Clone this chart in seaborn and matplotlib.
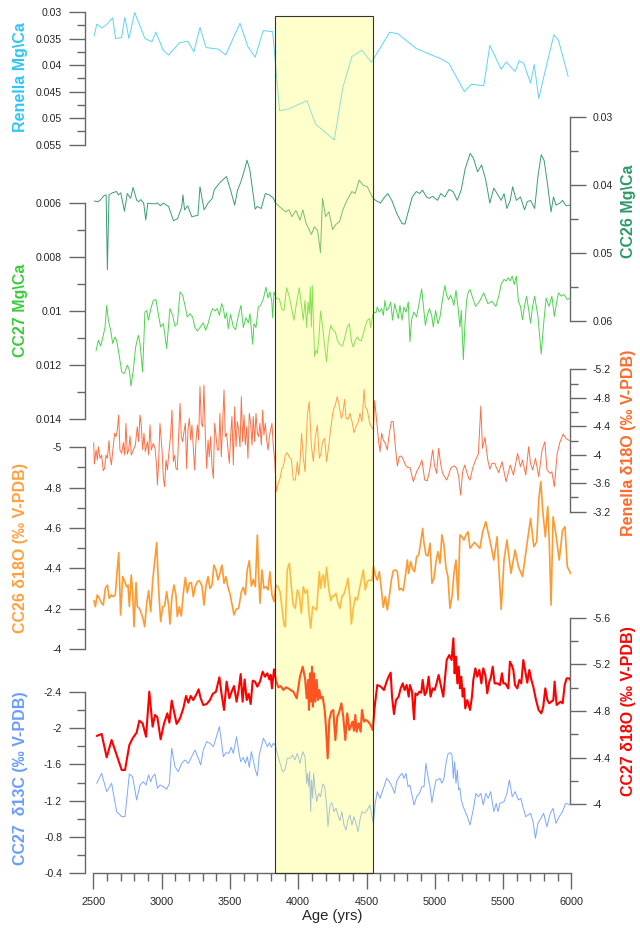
import matplotlib
matplotlib.use('Agg')
import matplotlib.pyplot as plt
import seaborn as sns
from matplotlib.ticker import FixedLocator, MultipleLocator, AutoMinorLocator, FuncFormatter
from matplotlib.patches import Rectangle

sns.set_theme(style='white')
plt.rcParams['font.family'] = ['Liberation Sans', 'DejaVu Sans']

# ---------------- data ----------------
event_start, event_end = 3832, 4547
age_ticks = [2500, 3000, 3500, 4000, 4500, 5000, 5500, 6000]

ren_mg_age = [2507, 2525, 2564, 2600, 2642, 2663, 2707, 2731, 2761, 2803,
              2878, 2929, 2958, 3012, 3051, 3132, 3191, 3236, 3281, 3326,
              3416, 3469, 3574, 3631, 3685, 3744, 3813, 3864, 3927, 4064,
              4127, 4264, 4327, 4393, 4467, 4536, 4670, 4730, 4865, 4939,
              5044, 5104, 5217, 5268, 5358, 5403, 5486, 5522, 5588, 5618,
              5650, 5701, 5728, 5761, 5821, 5872, 5905, 5976]
ren_mg_val = [0.0345, 0.0323, 0.0330, 0.0323, 0.0311, 0.0350, 0.0348, 0.0310, 0.0350, 0.0301,
              0.0350, 0.0356, 0.0338, 0.0372, 0.0381, 0.0358, 0.0355, 0.0375, 0.0329, 0.0367,
              0.0370, 0.0381, 0.0321, 0.0365, 0.0385, 0.0335, 0.0337, 0.0486, 0.0483, 0.0467,
              0.0511, 0.0541, 0.0442, 0.0384, 0.0372, 0.0395, 0.0338, 0.0341, 0.0369, 0.0377,
              0.0388, 0.0397, 0.0450, 0.0436, 0.0439, 0.0363, 0.0408, 0.0394, 0.0412, 0.0392,
              0.0396, 0.0434, 0.0399, 0.0463, 0.0397, 0.0343, 0.0353, 0.0421]
ren_mg_ticks = [0.03, 0.035, 0.04, 0.045, 0.05, 0.055]

cc26_mg_age = [2507, 2534, 2549, 2579, 2594, 2603, 2615, 2639, 2669, 2684,
               2701, 2728, 2749, 2773, 2791, 2818, 2833, 2848, 2869, 2884,
               2899, 2923, 2952, 2970, 2991, 3012, 3051, 3087, 3117, 3147,
               3156, 3168, 3191, 3221, 3266, 3281, 3311, 3341, 3371, 3386,
               3431, 3475, 3505, 3535, 3556, 3580, 3610, 3625, 3646, 3685,
               3699, 3729, 3759, 3789, 3819, 3834, 3879, 3909, 3933, 3953,
               3983, 4013, 4034, 4058, 4097, 4118, 4142, 4163, 4178, 4201,
               4225, 4252, 4273, 4303, 4327, 4357, 4393, 4417, 4446, 4476,
               4506, 4542, 4566, 4602, 4626, 4656, 4685, 4721, 4760, 4781,
               4805, 4835, 4865, 4889, 4910, 4939, 4960, 4984, 5020, 5044,
               5074, 5104, 5134, 5164, 5193, 5223, 5259, 5283, 5313, 5343,
               5373, 5403, 5432, 5462, 5486, 5507, 5528, 5552, 5570, 5597,
               5627, 5657, 5677, 5701, 5731, 5755, 5779, 5800, 5821, 5851,
               5869, 5887, 5917, 5935, 5961, 5988]
cc26_mg_val = [0.0424, 0.0425, 0.0423, 0.0416, 0.0415, 0.0525, 0.0415, 0.0412, 0.0410, 0.0415,
               0.0412, 0.0439, 0.0413, 0.0420, 0.0404, 0.0423, 0.0425, 0.0422, 0.0427, 0.0452,
               0.0427, 0.0428, 0.0428, 0.0427, 0.0431, 0.0427, 0.0432, 0.0453, 0.0450, 0.0433,
               0.0415, 0.0437, 0.0431, 0.0447, 0.0445, 0.0403, 0.0437, 0.0427, 0.0420, 0.0407,
               0.0396, 0.0388, 0.0408, 0.0430, 0.0408, 0.0396, 0.0376, 0.0364, 0.0378, 0.0436,
               0.0432, 0.0435, 0.0413, 0.0415, 0.0420, 0.0427, 0.0435, 0.0440, 0.0437, 0.0447,
               0.0438, 0.0452, 0.0437, 0.0457, 0.0473, 0.0462, 0.0467, 0.0500, 0.0420, 0.0447,
               0.0440, 0.0466, 0.0459, 0.0454, 0.0437, 0.0423, 0.0410, 0.0413, 0.0393, 0.0401,
               0.0403, 0.0418, 0.0423, 0.0427, 0.0420, 0.0413, 0.0423, 0.0442, 0.0457, 0.0458,
               0.0440, 0.0418, 0.0410, 0.0413, 0.0408, 0.0418, 0.0420, 0.0417, 0.0423, 0.0413,
               0.0418, 0.0407, 0.0410, 0.0423, 0.0408, 0.0376, 0.0354, 0.0361, 0.0381, 0.0371,
               0.0393, 0.0427, 0.0405, 0.0415, 0.0423, 0.0413, 0.0435, 0.0423, 0.0403, 0.0423,
               0.0418, 0.0437, 0.0425, 0.0423, 0.0435, 0.0388, 0.0356, 0.0364, 0.0393, 0.0440,
               0.0418, 0.0430, 0.0427, 0.0423, 0.0431, 0.0430]
cc26_mg_ticks = [0.03, 0.04, 0.05, 0.06]

cc27_mg_age = [2520, 2537, 2554, 2573, 2586, 2598, 2610, 2627, 2642, 2659,
               2671, 2691, 2708, 2727, 2749, 2764, 2776, 2793, 2810, 2830,
               2842, 2861, 2878, 2891, 2903, 2922, 2939, 2959, 2976, 2993,
               3013, 3037, 3061, 3081, 3098, 3115, 3135, 3154, 3171, 3188,
               3208, 3227, 3244, 3262, 3281, 3305, 3323, 3342, 3359, 3374,
               3391, 3408, 3423, 3440, 3452, 3464, 3476, 3488, 3505, 3525,
               3542, 3562, 3581, 3598, 3618, 3635, 3647, 3667, 3676, 3691,
               3708, 3725, 3745, 3764, 3779, 3793, 3806, 3813, 3823, 3842,
               3862, 3879, 3896, 3915, 3935, 3952, 3969, 3989, 4008, 4025,
               4037, 4050, 4062, 4072, 4081, 4089, 4096, 4103, 4111, 4120,
               4130, 4140, 4152, 4164, 4179, 4194, 4208, 4220, 4238, 4257,
               4272, 4286, 4306, 4325, 4342, 4359, 4374, 4391, 4403, 4418,
               4433, 4447, 4462, 4477, 4491, 4506, 4521, 4530, 4545, 4555,
               4569, 4579, 4594, 4611, 4623, 4635, 4647, 4662, 4677, 4691,
               4706, 4721, 4733, 4745, 4760, 4774, 4789, 4806, 4818, 4830,
               4847, 4867, 4887, 4904, 4916, 4931, 4945, 4960, 4977, 4989,
               5006, 5023, 5038, 5057, 5074, 5087, 5101, 5116, 5130, 5140,
               5155, 5170, 5184, 5194, 5209, 5221, 5233, 5245, 5258, 5298,
               5328, 5358, 5388, 5418, 5447, 5468, 5486, 5507, 5522, 5537,
               5552, 5567, 5582, 5597, 5612, 5627, 5642, 5657, 5672, 5687,
               5701, 5716, 5731, 5755, 5779, 5797, 5815, 5836, 5857, 5875,
               5887, 5905, 5925, 5946, 5970, 5991]
cc27_mg_val = [0.01147, 0.01108, 0.01130, 0.01090, 0.01059, 0.00979, 0.01034, 0.01071, 0.01120, 0.01096,
               0.01108, 0.01169, 0.01225, 0.01231, 0.01200, 0.01218, 0.01277, 0.01218, 0.01133, 0.01090,
               0.01120, 0.01225, 0.01004, 0.00998, 0.01034, 0.00991, 0.00961, 0.00958, 0.01012, 0.01059,
               0.01047, 0.01139, 0.00991, 0.01016, 0.01056, 0.01047, 0.00930, 0.00942, 0.00979, 0.01022,
               0.01010, 0.01022, 0.01061, 0.01074, 0.01061, 0.01044, 0.01071, 0.01044, 0.01010, 0.00991,
               0.01000, 0.00991, 0.01016, 0.00973, 0.00991, 0.01028, 0.01007, 0.01065, 0.01012, 0.01059,
               0.01069, 0.01016, 0.00979, 0.01061, 0.01025, 0.01044, 0.01010, 0.01123, 0.01047, 0.01061,
               0.00985, 0.00979, 0.00955, 0.00912, 0.00951, 0.00930, 0.00961, 0.01025, 0.00930, 0.00955,
               0.00955, 0.00991, 0.00998, 0.00914, 0.00948, 0.00991, 0.01034, 0.00967, 0.00914, 0.00985,
               0.01034, 0.00961, 0.01061, 0.00967, 0.01010, 0.00912, 0.01059, 0.00906, 0.01034, 0.01169,
               0.01145, 0.01157, 0.01096, 0.01000, 0.01059, 0.01133, 0.01188, 0.01108, 0.01053, 0.01071,
               0.01077, 0.01108, 0.01123, 0.01130, 0.01096, 0.01059, 0.01047, 0.01114, 0.01133, 0.01108,
               0.01096, 0.01108, 0.01110, 0.01083, 0.01056, 0.01034, 0.01028, 0.01061, 0.01016, 0.01004,
               0.01007, 0.00985, 0.01004, 0.00991, 0.01016, 0.00961, 0.00998, 0.00991, 0.00967, 0.01034,
               0.00973, 0.01004, 0.01028, 0.00979, 0.01034, 0.00985, 0.01004, 0.00967, 0.01114, 0.01032,
               0.01004, 0.01022, 0.00967, 0.00918, 0.00979, 0.01053, 0.01016, 0.00991, 0.01016, 0.01059,
               0.00998, 0.01047, 0.01022, 0.00955, 0.00906, 0.00942, 0.00958, 0.00942, 0.00961, 0.00979,
               0.00924, 0.00985, 0.01059, 0.00998, 0.01180, 0.01047, 0.00961, 0.00930, 0.00921, 0.00983,
               0.00964, 0.00933, 0.00973, 0.00964, 0.00983, 0.00945, 0.00902, 0.00883, 0.00889, 0.00877,
               0.00889, 0.00871, 0.00902, 0.00871, 0.00964, 0.00983, 0.01032, 0.00983, 0.00945, 0.00995,
               0.01045, 0.00983, 0.00945, 0.01020, 0.01159, 0.01045, 0.00952, 0.00983, 0.00945, 0.01020,
               0.00983, 0.00933, 0.00945, 0.00939, 0.00958, 0.00952]
cc27_mg_ticks = [0.006, 0.008, 0.01, 0.012, 0.014]

ren_o_age = [2503, 2508, 2520, 2530, 2537, 2549, 2561, 2573, 2583, 2593,
             2603, 2615, 2622, 2632, 2647, 2656, 2666, 2676, 2686, 2695,
             2708, 2720, 2730, 2739, 2749, 2759, 2769, 2778, 2793, 2808,
             2822, 2832, 2842, 2852, 2861, 2871, 2881, 2896, 2905, 2915,
             2925, 2939, 2952, 2964, 2969, 2978, 2988, 3003, 3013, 3022,
             3032, 3042, 3054, 3066, 3076, 3086, 3096, 3105, 3115, 3125,
             3135, 3144, 3154, 3164, 3174, 3183, 3193, 3203, 3213, 3222,
             3232, 3242, 3252, 3262, 3271, 3281, 3291, 3301, 3310, 3320,
             3330, 3340, 3349, 3359, 3369, 3379, 3388, 3398, 3408, 3418,
             3427, 3437, 3447, 3457, 3466, 3476, 3486, 3496, 3505, 3515,
             3525, 3535, 3545, 3554, 3564, 3574, 3584, 3593, 3603, 3613,
             3623, 3632, 3642, 3652, 3662, 3671, 3681, 3691, 3701, 3710,
             3720, 3730, 3740, 3749, 3759, 3769, 3779, 3789, 3798, 3808,
             3818, 3828, 3835, 3842, 3854, 3867, 3881, 3891, 3906, 3920,
             3935, 3950, 3964, 3979, 3994, 4003, 4013, 4025, 4037, 4050,
             4067, 4081, 4096, 4111, 4125, 4140, 4155, 4164, 4179, 4194,
             4208, 4223, 4238, 4257, 4272, 4286, 4301, 4316, 4325, 4340,
             4350, 4364, 4379, 4394, 4408, 4423, 4438, 4452, 4467, 4482,
             4491, 4506, 4521, 4535, 4550, 4560, 4574, 4589, 4599, 4611,
             4623, 4638, 4652, 4667, 4682, 4696, 4711, 4726, 4740, 4755,
             4769, 4784, 4799, 4818, 4843, 4867, 4887, 4906, 4926, 4945,
             4965, 4984, 4999, 5013, 5028, 5043, 5057, 5072, 5087, 5101,
             5116, 5131, 5145, 5160, 5175, 5189, 5204, 5219, 5233, 5248,
             5258, 5277, 5298, 5319, 5337, 5349, 5367, 5388, 5403, 5418,
             5438, 5468, 5492, 5522, 5552, 5576, 5606, 5627, 5642, 5666,
             5687, 5701, 5716, 5737, 5761, 5785, 5806, 5821, 5845, 5857,
             5875, 5896, 5917, 5940, 5961, 5985]
ren_o_val = [-4.170, -3.870, -4.067, -3.926, -4.113, -3.949, -3.996, -3.776, -3.809, -3.996,
             -3.949, -4.198, -3.982, -3.856, -4.137, -4.301, -4.254, -4.347, -4.558, -4.067,
             -4.020, -4.170, -3.996, -4.441, -4.010, -4.067, -4.263, -3.996, -4.067, -4.137,
             -4.394, -4.184, -4.558, -4.394, -4.067, -4.301, -4.043, -4.184, -3.996, -4.418,
             -4.067, -4.160, -4.090, -3.832, -3.575, -3.879, -4.441, -4.067, -3.669, -3.552,
             -3.926, -3.786, -4.043, -4.277, -4.628, -3.903, -3.996, -3.809, -3.786, -4.277,
             -4.722, -4.254, -4.184, -4.324, -4.441, -3.809, -4.347, -4.511, -4.207, -4.418,
             -4.090, -3.786, -4.207, -4.418, -4.207, -4.956, -4.441, -4.394, -4.979, -4.277,
             -3.809, -4.207, -3.973, -4.254, -3.832, -3.669, -4.441, -4.277, -4.067, -4.067,
             -4.582, -3.973, -4.441, -4.909, -4.254, -4.301, -4.067, -3.879, -4.254, -4.535,
             -3.856, -4.675, -4.113, -4.465, -4.347, -4.113, -4.816, -4.184, -4.558, -4.137,
             -4.394, -3.949, -4.582, -4.441, -4.137, -4.535, -4.184, -4.582, -4.301, -4.254,
             -4.441, -4.137, -4.628, -4.277, -4.441, -4.207, -4.067, -4.254, -4.347, -4.441,
             -4.113, -3.926, -3.669, -3.481, -3.598, -3.669, -3.809, -3.832, -3.996, -4.029,
             -3.964, -3.935, -3.645, -3.645, -3.903, -3.715, -3.879, -4.301, -3.964, -3.762,
             -4.558, -4.745, -4.137, -3.903, -4.244, -4.418, -3.949, -3.996, -4.184, -4.230,
             -3.903, -4.113, -4.371, -4.628, -4.699, -4.816, -4.675, -4.511, -4.558, -4.778,
             -4.511, -4.497, -4.582, -4.465, -4.310, -4.394, -4.450, -4.582, -4.465, -4.919,
             -4.675, -4.628, -4.465, -4.394, -4.357, -4.759, -4.488, -4.184, -4.043, -4.301,
             -4.207, -4.160, -4.067, -4.301, -4.465, -4.465, -4.113, -3.842, -3.973, -3.982,
             -3.935, -3.856, -3.823, -3.823, -3.622, -3.762, -3.832, -3.926, -3.645, -3.636,
             -3.809, -4.067, -3.842, -3.739, -4.090, -3.870, -3.739, -3.692, -3.645, -3.715,
             -3.809, -3.832, -3.842, -3.809, -3.692, -3.434, -3.762, -3.856, -3.762, -3.669,
             -3.645, -3.809, -3.926, -4.010, -4.684, -4.090, -4.244, -3.926, -3.795, -3.879,
             -3.879, -3.748, -3.903, -3.622, -3.856, -3.715, -4.020, -3.832, -3.926, -3.715,
             -4.113, -3.879, -3.786, -3.949, -3.692, -4.066, -4.183, -3.786, -3.739, -3.762,
             -3.551, -4.020, -4.183, -4.291, -4.230, -4.198]
ren_o_ticks = [-5.2, -4.8, -4.4, -4.0, -3.6, -3.2]

cc26_o_age = [2505, 2515, 2529, 2544, 2561, 2573, 2588, 2603, 2617, 2632,
              2647, 2661, 2671, 2686, 2700, 2715, 2730, 2744, 2754, 2764,
              2778, 2788, 2798, 2813, 2822, 2837, 2852, 2866, 2876, 2891,
              2905, 2920, 2935, 2949, 2964, 2978, 2993, 3008, 3022, 3037,
              3052, 3061, 3076, 3091, 3105, 3115, 3130, 3144, 3159, 3174,
              3188, 3203, 3218, 3232, 3247, 3262, 3276, 3296, 3310, 3325,
              3340, 3354, 3369, 3383, 3398, 3413, 3427, 3442, 3457, 3471,
              3486, 3501, 3515, 3530, 3545, 3564, 3584, 3598, 3613, 3627,
              3642, 3657, 3671, 3686, 3701, 3710, 3720, 3735, 3749, 3764,
              3779, 3793, 3808, 3823, 3837, 3852, 3867, 3881, 3896, 3906,
              3920, 3935, 3950, 3964, 3979, 3994, 4008, 4023, 4037, 4052,
              4067, 4077, 4091, 4106, 4120, 4135, 4155, 4164, 4174, 4184,
              4194, 4208, 4223, 4238, 4252, 4262, 4277, 4291, 4306, 4320,
              4335, 4350, 4364, 4379, 4389, 4403, 4418, 4433, 4447, 4462,
              4477, 4491, 4506, 4521, 4540, 4550, 4564, 4579, 4594, 4608,
              4623, 4638, 4652, 4667, 4682, 4696, 4711, 4726, 4740, 4755,
              4769, 4784, 4799, 4808, 4823, 4838, 4852, 4867, 4882, 4896,
              4911, 4921, 4935, 4950, 4965, 4979, 4994, 5009, 5023, 5038,
              5052, 5067, 5082, 5096, 5111, 5126, 5140, 5155, 5170, 5184,
              5199, 5213, 5228, 5243, 5258, 5290, 5330, 5350, 5373, 5403,
              5432, 5456, 5486, 5507, 5528, 5558, 5588, 5612, 5642, 5672,
              5701, 5725, 5746, 5761, 5776, 5791, 5809, 5827, 5839, 5851,
              5866, 5887, 5911, 5935, 5953, 5970, 5994]
cc26_o_val = [-4.241, -4.211, -4.269, -4.252, -4.228, -4.219, -4.302, -4.318, -4.252, -4.269,
              -4.261, -4.269, -4.360, -4.478, -4.170, -4.360, -4.335, -4.310, -4.318, -4.211,
              -4.368, -4.285, -4.112, -4.330, -4.211, -4.203, -4.178, -4.145, -4.112, -4.228,
              -4.290, -4.186, -4.343, -4.434, -4.528, -4.302, -4.137, -4.211, -4.214, -4.285,
              -4.214, -4.125, -4.261, -4.318, -4.269, -4.162, -4.211, -4.165, -4.277, -4.356,
              -4.280, -4.327, -4.330, -4.261, -4.313, -4.335, -4.340, -4.313, -4.219, -4.313,
              -4.360, -4.302, -4.318, -4.417, -4.393, -4.343, -4.376, -4.417, -4.327, -4.360,
              -4.307, -4.274, -4.224, -4.170, -4.198, -4.203, -4.285, -4.307, -4.269, -4.393,
              -4.439, -4.313, -4.346, -4.310, -4.566, -4.384, -4.228, -4.393, -4.302, -4.310,
              -4.294, -4.384, -4.269, -4.236, -4.318, -4.310, -4.285, -4.211, -4.120, -4.112,
              -4.393, -4.426, -4.310, -4.219, -4.203, -4.294, -4.269, -4.178, -4.310, -4.277,
              -4.294, -4.195, -4.104, -4.211, -4.203, -4.195, -4.384, -4.302, -4.351, -4.368,
              -4.307, -4.406, -4.302, -4.241, -4.264, -4.264, -4.277, -4.228, -4.203, -4.261,
              -4.274, -4.310, -4.351, -4.252, -4.125, -4.203, -4.257, -4.244, -4.294, -4.343,
              -4.393, -4.294, -4.335, -4.343, -4.340, -4.412, -4.368, -4.343, -4.384, -4.302,
              -4.208, -4.261, -4.195, -4.261, -4.343, -4.389, -4.393, -4.384, -4.294, -4.302,
              -4.290, -4.360, -4.442, -4.376, -4.434, -4.396, -4.384, -4.459, -4.467, -4.525,
              -4.599, -4.525, -4.467, -4.462, -4.525, -4.327, -4.351, -4.434, -4.483, -4.426,
              -4.566, -4.516, -4.401, -4.360, -4.203, -4.261, -4.376, -4.442, -4.244, -4.566,
              -4.558, -4.541, -4.566, -4.582, -4.500, -4.530, -4.500, -4.580, -4.632, -4.541,
              -4.442, -4.557, -4.198, -4.442, -4.541, -4.376, -4.492, -4.409, -4.360, -4.508,
              -4.648, -4.508, -4.533, -4.739, -4.830, -4.681, -4.557, -4.706, -4.508, -4.219,
              -4.656, -4.566, -4.442, -4.590, -4.607, -4.409, -4.376]
cc26_o_ticks = [-5.0, -4.8, -4.6, -4.4, -4.2, -4.0]

cc27_o_age = [2525, 2561, 2598, 2634, 2671, 2708, 2732, 2764, 2788, 2817,
              2837, 2861, 2886, 2910, 2934, 2952, 2969, 2993, 3017, 3042,
              3057, 3074, 3091, 3110, 3135, 3159, 3179, 3196, 3213, 3232,
              3252, 3271, 3286, 3305, 3330, 3354, 3374, 3398, 3423, 3440,
              3457, 3476, 3496, 3513, 3530, 3549, 3564, 3579, 3593, 3608,
              3623, 3637, 3652, 3667, 3684, 3701, 3720, 3740, 3757, 3774,
              3789, 3798, 3808, 3823, 3837, 3854, 3872, 3891, 3911, 3928,
              3945, 3964, 3989, 4013, 4033, 4050, 4062, 4072, 4079, 4086,
              4094, 4101, 4108, 4116, 4125, 4135, 4145, 4155, 4164, 4179,
              4194, 4203, 4216, 4228, 4242, 4257, 4272, 4286, 4301, 4316,
              4330, 4345, 4359, 4374, 4389, 4398, 4408, 4418, 4428, 4442,
              4457, 4467, 4482, 4496, 4513, 4530, 4545, 4560, 4579, 4604,
              4628, 4647, 4662, 4677, 4687, 4701, 4716, 4735, 4750, 4765,
              4779, 4794, 4809, 4818, 4833, 4848, 4858, 4872, 4887, 4901,
              4911, 4926, 4940, 4955, 4969, 4984, 4999, 5013, 5028, 5062,
              5087, 5106, 5123, 5136, 5145, 5155, 5165, 5175, 5184, 5194,
              5204, 5214, 5223, 5238, 5258, 5272, 5282, 5297, 5311, 5326,
              5341, 5355, 5370, 5384, 5399, 5409, 5424, 5438, 5458, 5477,
              5492, 5502, 5516, 5538, 5550, 5563, 5575, 5587, 5604, 5619,
              5633, 5648, 5663, 5677, 5692, 5707, 5721, 5741, 5760, 5780,
              5794, 5809, 5824, 5838, 5853, 5868, 5877, 5892, 5907, 5921,
              5936, 5951, 5965, 5985, 5995]
cc27_o_val = [-4.586, -4.603, -4.403, -4.551, -4.423, -4.294, -4.294, -4.509, -4.566, -4.614,
              -4.717, -4.694, -4.580, -4.966, -4.666, -4.766, -4.746, -4.557, -4.689, -4.780,
              -4.700, -4.889, -4.794, -4.689, -4.737, -4.823, -4.929, -4.871, -4.929, -4.894,
              -4.937, -4.986, -4.909, -4.851, -4.860, -4.894, -4.946, -4.966, -5.089, -4.937,
              -4.809, -5.052, -4.909, -4.966, -5.014, -4.880, -4.980, -5.117, -4.880, -5.071,
              -4.894, -4.946, -4.860, -5.060, -5.052, -5.009, -5.052, -5.137, -5.094, -5.123,
              -5.071, -5.109, -4.994, -5.157, -5.066, -5.003, -5.014, -4.980, -5.003, -4.994,
              -4.980, -4.966, -4.909, -5.094, -5.180, -5.080, -4.909, -5.066, -4.809, -5.123,
              -4.880, -5.180, -4.837, -5.123, -4.880, -5.066, -4.894, -4.980, -4.909, -4.923,
              -4.809, -4.666, -4.394, -4.723, -4.794, -4.809, -4.551, -4.751, -4.794, -4.866,
              -4.751, -4.551, -4.780, -4.637, -4.680, -4.709, -4.631, -4.766, -4.623, -4.694,
              -4.623, -4.809, -4.709, -4.723, -4.709, -4.680, -4.637, -4.837, -5.023, -5.009,
              -4.980, -5.052, -5.094, -5.129, -4.923, -4.774, -4.894, -4.923, -4.994, -5.037,
              -4.980, -5.023, -4.923, -5.023, -4.966, -4.729, -4.951, -4.937, -4.966, -4.957,
              -5.066, -4.937, -4.966, -5.094, -4.923, -4.994, -4.980, -5.037, -5.109, -4.923,
              -5.237, -5.280, -5.237, -5.423, -5.123, -5.266, -5.037, -5.180, -4.994, -5.094,
              -4.923, -4.994, -4.823, -4.894, -4.809, -4.923, -5.066, -5.166, -5.094, -5.152,
              -5.037, -5.166, -5.109, -4.952, -5.052, -5.080, -5.180, -5.037, -5.037, -5.023,
              -5.123, -5.037, -5.037, -4.994, -5.223, -5.194, -5.152, -5.023, -4.994, -5.066,
              -5.037, -5.237, -5.137, -5.043, -5.152, -5.066, -5.009, -4.894, -4.809, -4.780,
              -4.837, -4.994, -4.894, -4.866, -4.880, -4.894, -5.052, -4.852, -4.866, -4.880,
              -4.866, -5.023, -5.080, -5.080, -5.060]
cc27_o_ticks = [-5.6, -5.2, -4.8, -4.4, -4.0]

cc27_c_age = [2525, 2561, 2598, 2634, 2671, 2708, 2732, 2764, 2788, 2817,
              2842, 2866, 2886, 2905, 2920, 2934, 2952, 2969, 2988, 3013,
              3037, 3057, 3074, 3098, 3122, 3147, 3171, 3196, 3220, 3244,
              3269, 3286, 3305, 3330, 3354, 3379, 3403, 3423, 3440, 3452,
              3471, 3491, 3510, 3525, 3549, 3564, 3579, 3598, 3613, 3627,
              3642, 3657, 3671, 3686, 3701, 3715, 3730, 3745, 3759, 3774,
              3789, 3803, 3818, 3833, 3847, 3867, 3886, 3903, 3920, 3940,
              3959, 3976, 3993, 4013, 4033, 4050, 4062, 4069, 4077, 4084,
              4091, 4098, 4106, 4113, 4123, 4135, 4150, 4164, 4179, 4194,
              4208, 4218, 4233, 4247, 4262, 4277, 4291, 4306, 4320, 4335,
              4350, 4364, 4379, 4394, 4408, 4423, 4438, 4452, 4467, 4486,
              4506, 4525, 4540, 4550, 4564, 4579, 4599, 4613, 4628, 4647,
              4667, 4687, 4706, 4721, 4740, 4760, 4774, 4789, 4804, 4818,
              4833, 4848, 4867, 4887, 4906, 4921, 4935, 4950, 4965, 4979,
              4994, 5009, 5023, 5038, 5052, 5067, 5082, 5096, 5111, 5126,
              5136, 5145, 5155, 5165, 5174, 5184, 5194, 5208, 5223, 5238,
              5258, 5283, 5301, 5319, 5337, 5355, 5373, 5391, 5409, 5432,
              5450, 5462, 5477, 5507, 5528, 5546, 5567, 5588, 5612, 5630,
              5648, 5666, 5684, 5701, 5719, 5737, 5755, 5776, 5797, 5821,
              5845, 5866, 5887, 5911, 5935, 5958, 5994]
cc27_c_val = [-1.391, -1.501, -1.299, -1.391, -1.078, -1.023, -1.023, -1.494, -1.465, -1.207,
              -1.372, -1.409, -1.372, -1.483, -1.409, -1.465, -1.494, -1.336, -1.372, -1.354,
              -1.325, -1.391, -1.778, -1.575, -1.520, -1.612, -1.649, -1.612, -1.685, -1.759,
              -1.667, -1.593, -1.759, -1.851, -1.833, -1.796, -1.914, -2.017, -1.833, -1.685,
              -1.730, -1.722, -1.789, -1.722, -1.906, -1.752, -1.630, -1.678, -1.612, -1.685,
              -1.568, -1.741, -1.649, -1.538, -1.472, -1.704, -1.796, -1.888, -1.851, -1.796,
              -1.840, -1.789, -1.833, -1.814, -1.722, -1.612, -1.520, -1.538, -1.667, -1.667,
              -1.704, -1.649, -1.722, -1.612, -1.741, -1.685, -1.391, -1.501, -1.354, -1.520,
              -1.078, -1.428, -1.225, -1.501, -1.336, -1.188, -1.280, -1.243, -1.383, -1.354,
              -1.151, -0.912, -1.151, -1.177, -1.078, -1.115, -1.041, -0.978, -1.078, -0.930,
              -0.875, -0.986, -1.041, -0.930, -1.023, -0.949, -0.857, -0.986, -1.078, -1.060,
              -1.096, -1.151, -1.023, -0.949, -1.170, -1.299, -1.225, -1.288, -1.354, -1.446,
              -1.409, -1.354, -1.280, -1.409, -1.465, -1.501, -1.446, -1.501, -1.354, -1.372,
              -1.262, -1.151, -1.243, -1.280, -1.354, -1.354, -1.612, -1.465, -1.354, -1.177,
              -1.317, -1.428, -1.428, -1.446, -1.391, -1.446, -1.612, -1.715, -1.730, -1.704,
              -1.446, -1.630, -1.391, -1.538, -1.317, -1.336, -1.207, -1.133, -1.078, -1.023,
              -0.930, -1.114, -1.280, -1.243, -1.280, -1.151, -1.280, -1.225, -1.299, -1.078,
              -1.170, -1.078, -1.170, -1.188, -1.280, -1.428, -1.243, -1.299, -1.207, -1.225,
              -1.114, -1.022, -1.041, -1.059, -0.967, -0.783, -0.949, -1.004, -1.059, -0.912,
              -1.059, -1.114, -0.949, -1.022, -1.078, -1.170, -1.151]
cc27_c_ticks = [-2.4, -2.0, -1.6, -1.2, -0.8, -0.4]

# ---------------- layout (pixel geometry of the reference) ----------------
W, H = 640, 930
X0, X1 = 93.3, 571.4          # pixel x of age 2500 and 6000
fig = plt.figure(figsize=(W / 100, H / 100), dpi=100)
fig.patch.set_facecolor('white')

AX_GRAY = '#666666'
TXT = '#262626'


def ax_at(top, bottom, zorder=1):
    return fig.add_axes([X0 / W, 1 - bottom / H, (X1 - X0) / W, (bottom - top) / H],
                        zorder=zorder)


fmt = FuncFormatter(lambda v, p: f'{v:g}')

# base axes with the age axis
base = ax_at(15.7, 873, zorder=0)
base.set_facecolor('white')
base.set_xlim(2500, 6000)
base.set_ylim(0, 1)
for s in ['left', 'right', 'top']:
    base.spines[s].set_visible(False)
base.spines['bottom'].set_color(AX_GRAY)
base.spines['bottom'].set_linewidth(1.0)
base.xaxis.set_major_locator(FixedLocator(age_ticks))
base.xaxis.set_minor_locator(MultipleLocator(100))
base.xaxis.set_major_formatter(fmt)
base.tick_params(axis='x', which='major', direction='out', length=11.5, width=1.0,
                 color=AX_GRAY, labelsize=7.8, labelcolor=TXT, pad=5.5, bottom=True)
base.tick_params(axis='x', which='minor', direction='out', length=5.8, width=1.0,
                 color=AX_GRAY, bottom=True)
base.set_yticks([])
base.set_xlabel('Age (yrs)', fontsize=10.7, color=TXT, labelpad=2)
base.grid(False)

panels = [
    # age, values, ticks, top px, bottom px, ylim(bottom, top), side, line colour, lw
    (ren_mg_age, ren_mg_val, ren_mg_ticks, 12.0, 144.7, (0.055, 0.03), 'left', '#5CD3F7', 0.7),
    (cc26_mg_age, cc26_mg_val, cc26_mg_ticks, 116.7, 320.7, (0.06, 0.03), 'right', '#3A9E6E', 0.7),
    (cc27_mg_age, cc27_mg_val, cc27_mg_ticks, 202.7, 419.3, (0.014, 0.006), 'left', '#4CD44C', 0.7),
    (ren_o_age, ren_o_val, ren_o_ticks, 369.3, 511.7, (-3.2, -5.2), 'right', '#FF6F45', 0.7),
    (cc26_o_age, cc26_o_val, cc26_o_ticks, 447.3, 649.3, (-4.0, -5.0), 'left', '#FF9A30', 1.2),
    (cc27_o_age, cc27_o_val, cc27_o_ticks, 617.7, 804.3, (-4.0, -5.6), 'right', '#FF0000', 1.5),
    (cc27_c_age, cc27_c_val, cc27_c_ticks, 692.0, 873.0, (-0.4, -2.4), 'left', '#7BA7FF', 0.7),
]

for i, (age, val, ticks, top, bot, ylim, side, col, lw) in enumerate(panels):
    ax = ax_at(top, bot, zorder=2 + i)
    ax.patch.set_visible(False)
    sns.lineplot(x=age, y=val, ax=ax, color=col, linewidth=lw, estimator=None, sort=False)
    ax.set_xlim(2500, 6000)
    ax.set_ylim(*ylim)
    ax.set_xticks([])
    ax.set_xlabel('')
    ax.set_ylabel('')
    ax.grid(False)
    for s in ['left', 'right', 'top', 'bottom']:
        ax.spines[s].set_visible(False)
    sp = ax.spines[side]
    sp.set_visible(True)
    sp.set_color(AX_GRAY)
    sp.set_linewidth(1.0)
    if side == 'left':
        sp.set_position(('outward', 6))
        ax.yaxis.tick_left()
    else:
        sp.set_position(('outward', -1))
        ax.yaxis.tick_right()
    ax.yaxis.set_major_locator(FixedLocator(ticks))
    ax.yaxis.set_minor_locator(AutoMinorLocator(2))
    ax.yaxis.set_major_formatter(fmt)
    ax.tick_params(axis='y', which='major', direction='out', length=11.5, width=1.0,
                   color=AX_GRAY, labelsize=7.6, labelcolor=TXT, pad=5.0)
    ax.tick_params(axis='y', which='minor', direction='out', length=5.8, width=1.0,
                   color=AX_GRAY)

# event box drawn over the curves
box = ax_at(15.7, 873, zorder=20)
box.patch.set_visible(False)
box.set_xlim(2500, 6000)
box.set_ylim(0, 1)
box.axis('off')
box.add_patch(Rectangle((event_start, 0), event_end - event_start, 1,
                        facecolor=(1.0, 1.0, 0.40, 0.33), edgecolor=(0.2, 0.2, 0.2, 1.0),
                        linewidth=0.8, clip_on=False))

# axis titles
titles = [
    ('Renella Mg\\Ca', 21, 77.5, '#2FC6F5'),
    ('CC26 Mg\\Ca', 628, 211, '#2E9A66'),
    ('CC27 Mg\\Ca', 21, 310, '#3CCC3C'),
    ('Renella δ18O (‰ V-PDB)', 628, 443, '#FF6A2A'),
    ('CC26 δ18O (‰ V-PDB)', 21, 548, '#FFA040'),
    ('CC27 δ18O (‰ V-PDB)', 628, 711, '#FF0000'),
    ('CC27  δ13C (‰ V-PDB)', 21, 778, '#6A9BFF'),
]
for txt, px, py, col in titles:
    fig.text(px / W, 1 - py / H, txt, rotation=90, ha='center', va='center',
             color=col, fontsize=11.5, fontweight='bold')

fig.savefig('out.png', dpi=100, facecolor='white')
